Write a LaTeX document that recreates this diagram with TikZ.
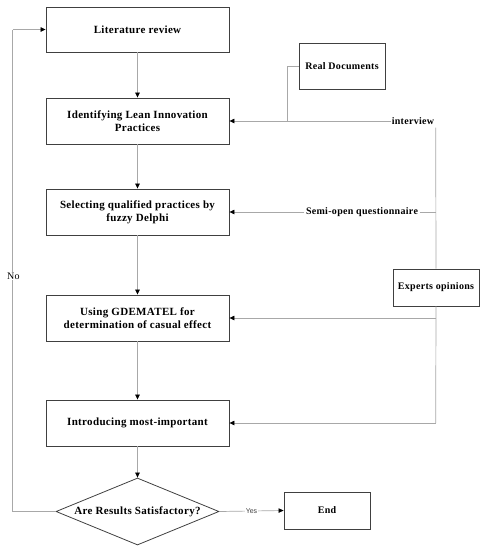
\documentclass[tikz,border=0pt]{standalone}
\usepackage{fontspec}
\setmainfont{Liberation Serif}[LetterSpace=3]
\setsansfont{Liberation Sans}
\usetikzlibrary{shapes.geometric,arrows.meta}
\definecolor{boxline}{HTML}{404040}
\definecolor{conn}{HTML}{A8A8A8}
\tikzset{
  stepbox/.style={draw=boxline, line width=0.9pt, minimum width=183pt, minimum height=46pt, align=center, font=\fontsize{11}{13}\selectfont\bfseries, inner sep=2pt},
  sidebox/.style={draw=boxline, line width=0.9pt, minimum width=86pt, align=center, font=\fontsize{10}{12}\selectfont\bfseries, inner sep=2pt},
  decide/.style={draw=boxline, line width=0.8pt, diamond, aspect=2.43, minimum width=163pt, minimum height=67pt, inner sep=0pt, font=\fontsize{11}{13}\selectfont\bfseries},
  conline/.style={draw=conn, line width=0.7pt},
  arr/.style={conline, -{Triangle[length=5pt,width=4.5pt,color=black]}},
  lbl/.style={font=\fontsize{10}{12}\selectfont\bfseries, fill=white, inner sep=1.5pt},
}
\begin{document}
\begin{tikzpicture}[x=1pt,y=-1pt]
\useasboundingbox (0,0) rectangle (485,550);
\node[stepbox, minimum height=45pt] (b1) at (137.5,29.5) {Literature review};
\node[stepbox] (b2) at (137.5,121) {Identifying Lean Innovation\\Practices};
\node[stepbox] (b3) at (137.5,212) {Selecting qualified practices by\\fuzzy Delphi};
\node[stepbox] (b4) at (137.5,318) {Using GDEMATEL for\\determination of casual effect};
\node[stepbox] (b5) at (137.5,423) {Introducing most-important};
\node[decide] (d) at (137.5,511.5) {Are Results Satisfactory?};
\node[sidebox, minimum height=37pt] (end) at (327,510.5) {End};
\node[sidebox, minimum height=46pt] (rd) at (342,66) {Real Documents};
\node[sidebox, minimum height=37pt] (ex) at (436,287.5) {Experts opinions};

\draw[arr] (b1) -- (b2);
\draw[arr] (b2) -- (b3);
\draw[arr] (b3) -- (b4);
\draw[arr] (b4) -- (b5);
\draw[arr] (b5) -- (d);

% interview
\node[lbl, inner sep=0.5pt] (iv) at (413,121) {interview};
\coordinate (vtop) at (435.7,127.5);
\coordinate (vbot) at (435.7,423);
\coordinate (j1) at (287,121);
\draw[arr] (iv.west) -- (b2.east);
\draw[conline] (rd.west) -| (j1);
\draw[conline] (vtop) -- (ex.north);
\draw[conline] (ex.south) -- (vbot);

% semi-open
\node[lbl] (sq) at (362,212) {Semi-open questionnaire};
\draw[arr] (sq.west) -- (b3.east);
\draw[conline] (sq.east) -- (435.7,212);

\draw[arr] (435.7,318) -- (b4.east);
\draw[arr] (vbot) -- (b5.east);

% decision
\coordinate (nl) at (12.7,511.5);
\coordinate (nt) at (12.7,29.5);
\draw[conline] (d.west) -- (nl) -- (nt);
\draw[arr] (nt) -- (b1.west);
\node[font=\fontsize{10}{12}\selectfont, fill=white, inner sep=1pt] at (13.5,276) {No};
\draw[arr] (d.east) -- node[fill=white, inner sep=1pt, font=\sffamily\fontsize{7}{8}\selectfont, text=black!75] {Yes} (end.west);
\end{tikzpicture}
\end{document}
